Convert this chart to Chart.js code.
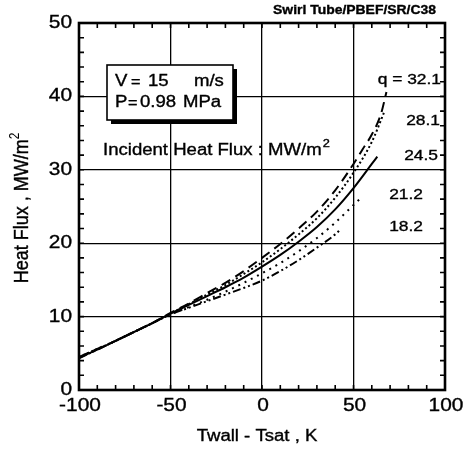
<!DOCTYPE html>
<html>
<head>
<meta charset="utf-8">
<script src="https://cdn.jsdelivr.net/npm/chart.js@4.4.1/dist/chart.umd.min.js"></script>
<style>
  html, body { margin: 0; padding: 0; background: #fff; }
  #wrap { width: 469px; height: 451px; }
</style>
</head>
<body>
<div id="wrap"><canvas id="fluxChart" width="469" height="451"></canvas></div>
<script>
// Twall - Tsat (K) and heat flux (MW/m2), one pair per incident heat flux
const q321Temp = [-100, -90, -80, -70, -60, -50, -40, -30, -20, -10, 0, 10, 20, 30, 40, 50, 55, 60, 65, 68];
const q321Flux = [4.5, 5.6, 6.7, 7.9, 9.1, 10.5, 11.8, 13.2, 14.6, 16.2, 18.0, 19.9, 22.0, 24.3, 27.2, 30.8, 32.8, 34.8, 37.6, 40.6];

const q281Temp = [-100, -90, -80, -70, -60, -50, -40, -30, -20, -10, 0, 10, 20, 30, 40, 50, 60, 67];
const q281Flux = [4.5, 5.6, 6.7, 7.9, 9.1, 10.4, 11.7, 13.0, 14.3, 15.8, 17.4, 19.2, 21.2, 23.4, 26.2, 29.6, 33.8, 38.0];

const q245Temp = [-100, -90, -80, -70, -60, -50, -40, -30, -20, -10, 0, 10, 20, 30, 40, 50, 60, 63];
const q245Flux = [4.4, 5.5, 6.7, 7.9, 9.1, 10.4, 11.6, 12.8, 14.0, 15.3, 16.8, 18.4, 20.2, 22.2, 24.6, 27.5, 30.8, 31.8];

const q212Temp = [-100, -90, -80, -70, -60, -50, -40, -30, -20, -10, 0, 10, 20, 30, 40, 50, 55];
const q212Flux = [4.4, 5.5, 6.7, 7.9, 9.1, 10.3, 11.3, 12.3, 13.4, 14.6, 15.9, 17.3, 18.9, 20.7, 22.8, 25.2, 26.4];

const q182Temp = [-100, -90, -80, -70, -60, -50, -40, -30, -20, -10, 0, 10, 20, 30, 40, 43];
const q182Flux = [4.3, 5.5, 6.7, 7.9, 9.1, 10.3, 11.2, 12.1, 13.0, 13.9, 14.9, 16.2, 17.7, 19.4, 21.2, 21.9];

const xTicks = [-100, -50, 0, 50, 100];
const yTicks = [0, 10, 20, 30, 40, 50];
const qLabels = ['q = 32.1', '28.1', '24.5', '21.2', '18.2'];
const qLabelFlux = [42.2, 36.7, 31.9, 26.6, 22.2]; // where each label sits on the y scale
const qLabelInset = [4, 5, 7, 22, 22];           // gap from the right frame, px

const FONT = '"Liberation Sans", Arial, Helvetica, sans-serif';
const STRETCH = 1.16; // the scanned figure is a little wider than tall

// text drawn a little wider, like the original scan
function wideText(c, str, x, y, size, align, bold) {
    c.save();
    c.font = (bold ? 'bold ' : '') + size + 'px ' + FONT;
    const w = c.measureText(str).width * STRETCH;
    let left = x;
    if (align === 'center') left = x - w / 2;
    if (align === 'right') left = x - w;
    c.translate(left, y);
    c.scale(STRETCH, 1);
    c.textAlign = 'left';
    c.textBaseline = 'middle';
    c.fillText(str, 0, 0);
    c.lineWidth = 0.35;
    c.strokeText(str, 0, 0);
    c.restore();
    return w;
}

function toPoints(xs, ys) {
    return xs.map((x, i) => ({ x: x, y: ys[i] }));
}

function lineSet(label, xs, ys, dash) {
    return {
        label: label,
        data: toPoints(xs, ys),
        showLine: true,
        borderColor: '#000',
        borderWidth: 2,
        borderDash: dash,
        pointRadius: 0,
        fill: false,
        cubicInterpolationMode: 'monotone'
    };
}

// draws the frame, inward minor ticks, tick labels, titles and the notes
const decorations = {
    id: 'decorations',
    afterDraw(chart) {
        const c = chart.ctx;
        const a = chart.chartArea;
        const xs = chart.scales.x;
        const ys = chart.scales.y;
        c.save();
        c.strokeStyle = '#000';
        c.fillStyle = '#000';

        // minor ticks, inward on all four sides
        c.lineWidth = 1.6;
        c.beginPath();
        for (let v = -100; v <= 100; v += 10) {
            const px = xs.getPixelForValue(v);
            c.moveTo(px, a.bottom); c.lineTo(px, a.bottom - 5);
            c.moveTo(px, a.top); c.lineTo(px, a.top + 5);
        }
        for (let v = 0; v <= 50; v += 2) {
            const py = ys.getPixelForValue(v);
            c.moveTo(a.left, py); c.lineTo(a.left + 5, py);
            c.moveTo(a.right, py); c.lineTo(a.right - 5, py);
        }
        c.stroke();

        // frame
        c.lineWidth = 2.6;
        c.strokeRect(a.left, a.top, a.right - a.left, a.bottom - a.top);

        // tick labels
        xTicks.forEach(v => wideText(c, String(v), xs.getPixelForValue(v) + 1, a.bottom + 16, 18, 'center'));
        yTicks.forEach(v => wideText(c, String(v), a.left - 7, ys.getPixelForValue(v), 18, 'right'));

        // x title
        wideText(c, 'Twall - Tsat , K', 257, 437, 16, 'center');

        // y title, rotated: the stretch goes across the letters here
        c.save();
        c.translate(22, 208);
        c.rotate(-Math.PI / 2);
        c.scale(1, STRETCH);
        c.font = '18px ' + FONT;
        const main = 'Heat Flux , MW/m';
        const wMain = c.measureText(main).width;
        c.font = '12px ' + FONT;
        const wSup = c.measureText('2').width;
        const start = -(wMain + wSup) / 2;
        c.textAlign = 'left';
        c.textBaseline = 'middle';
        c.lineWidth = 0.35;
        c.font = '18px ' + FONT;
        c.fillText(main, start, 0);
        c.strokeText(main, start, 0);
        c.font = '12px ' + FONT;
        c.fillText('2', start + wMain, -6);
        c.restore();

        // header
        wideText(c, 'Swirl Tube/PBEF/SR/C38', a.right - 9, 11, 12, 'right', true);

        // condition box with shadow
        c.fillRect(111, 69, 126, 55);
        c.fillStyle = '#fff';
        c.fillRect(107, 65, 126, 55);
        c.fillStyle = '#000';
        c.lineWidth = 1.6;
        c.strokeRect(107, 65, 126, 55);
        wideText(c, 'V', 115, 82, 16, 'left');
        wideText(c, '=', 131, 83, 14, 'left');
        wideText(c, '15', 148, 82, 16, 'left');
        wideText(c, 'm/s', 194, 82, 16, 'left');
        wideText(c, 'P', 115, 103, 16, 'left');
        wideText(c, '=', 128, 104, 14, 'left');
        wideText(c, '0.98', 140, 103, 16, 'left');
        wideText(c, 'MPa', 183, 103, 16, 'left');

        // incident heat flux note
        const w = wideText(c, 'Incident Heat Flux : MW/m', 103, 151, 16, 'left');
        wideText(c, '2', 103 + w + 1, 144, 11, 'left');

        // q labels
        qLabels.forEach((t, i) => wideText(c, t, a.right - qLabelInset[i], ys.getPixelForValue(qLabelFlux[i]), 15, 'right'));

        c.restore();
    }
};

const ctx = document.getElementById('fluxChart').getContext('2d');

const fluxChart = new Chart(ctx, {
    type: 'scatter',
    data: {
        datasets: [
            lineSet('32.1', q321Temp, q321Flux, [10, 6]),
            lineSet('28.1', q281Temp, q281Flux, [2, 2.5]),
            lineSet('24.5', q245Temp, q245Flux, []),
            lineSet('21.2', q212Temp, q212Flux, [2, 5]),
            lineSet('18.2', q182Temp, q182Flux, [8, 3, 2, 3, 2, 3])
        ]
    },
    options: {
        responsive: false,
        animation: false,
        layout: { padding: { left: 79, right: 24, top: 23, bottom: 61 } },
        plugins: {
            legend: { display: false },
            tooltip: { enabled: false }
        },
        scales: {
            x: {
                type: 'linear',
                min: -100,
                max: 100,
                ticks: { display: false, stepSize: 50 },
                grid: { color: '#000', lineWidth: 1.3, drawTicks: false },
                border: { display: false }
            },
            y: {
                type: 'linear',
                min: 0,
                max: 50,
                ticks: { display: false, stepSize: 10 },
                grid: { color: '#000', lineWidth: 1.3, drawTicks: false },
                border: { display: false }
            }
        }
    },
    plugins: [decorations]
});
</script>
</body>
</html>
